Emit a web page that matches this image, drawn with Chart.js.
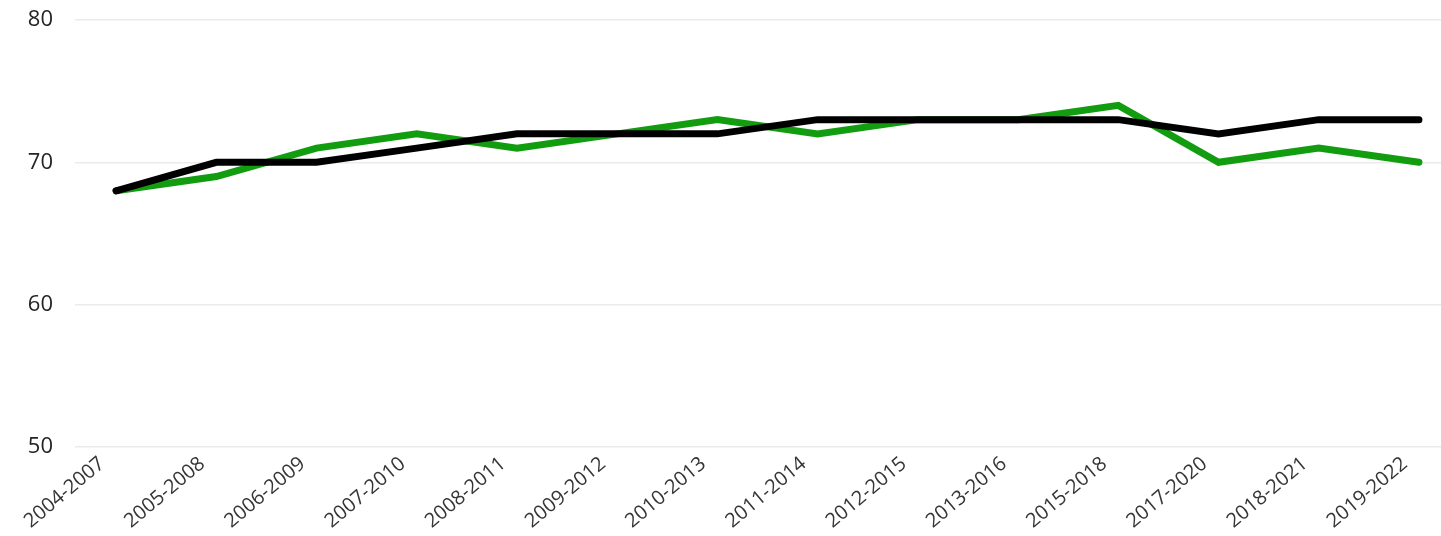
<!DOCTYPE html>
<html>
<head>
<meta charset="utf-8">
<script src="https://cdn.jsdelivr.net/npm/chart.js@4"></script>
<style>
html,body{margin:0;padding:0;background:#fff;}
#wrap{width:1441px;height:536px;position:relative;}
</style>
</head>
<body>
<div id="wrap"><canvas id="c"></canvas></div>
<script>
const categories = ["2004-2007","2005-2008","2006-2009","2007-2010","2008-2011","2009-2012","2010-2013","2011-2014","2012-2015","2013-2016","2015-2018","2017-2020","2018-2021","2019-2022"];
const greenSeries = [68, 69, 71, 72, 71, 72, 73, 72, 73, 73, 74, 70, 71, 70];
const blackSeries = [68, 70, 70, 71, 72, 72, 72, 73, 73, 73, 73, 72, 73, 73];
const yTicks = [50, 60, 70, 80];

const toPoints = arr => arr.map((v, i) => ({x: i, y: v}));

new Chart(document.getElementById('c'), {
  type: 'line',
  data: {
    datasets: [
      {
        data: toPoints(blackSeries),
        borderColor: '#000000',
        borderWidth: 7,
        pointRadius: 0,
        borderCapStyle: 'round',
        borderJoinStyle: 'miter',
        tension: 0,
        order: 0
      },
      {
        data: toPoints(greenSeries),
        borderColor: '#129c10',
        borderWidth: 7,
        pointRadius: 0,
        borderCapStyle: 'round',
        borderJoinStyle: 'miter',
        tension: 0,
        order: 1
      }
    ]
  },
  options: {
    responsive: true,
    maintainAspectRatio: false,
    animation: false,
    layout: {padding: {top: 20, right: 0, left: 0, bottom: 0}},
    plugins: {legend: {display: false}, tooltip: {enabled: false}},
    scales: {
      x: {
        type: 'linear',
        min: -0.41,
        max: 13.22,
        afterBuildTicks: axis => { axis.ticks = categories.map((c, i) => ({value: i})); },
        afterFit: scale => {
          scale.height = 89;
          scale.paddingLeft = 0; scale.paddingRight = 0;
          scale.paddingTop = 0; scale.paddingBottom = 0;
        },
        grid: {display: false, drawTicks: false},
        border: {display: false},
        ticks: {
          autoSkip: false,
          maxRotation: 40,
          minRotation: 40,
          padding: 5,
          labelOffset: -14,
          color: '#353535',
          font: {family: '"Open Sans", "Noto Sans", sans-serif', size: 20},
          callback: v => categories[v]
        }
      },
      y: {
        min: 50,
        max: 80,
        afterBuildTicks: axis => { axis.ticks = yTicks.map(v => ({value: v})); },
        afterFit: scale => {
          scale.width = 75;
          scale.paddingTop = 0; scale.paddingBottom = 0;
          scale.paddingLeft = 0; scale.paddingRight = 0;
        },
        grid: {color: '#ebebeb', lineWidth: 1.5, drawTicks: false},
        border: {display: false},
        ticks: {
          padding: 22,
          color: '#252423',
          font: {family: '"Open Sans", "Noto Sans", sans-serif', size: 22}
        }
      }
    }
  }
});
</script>
</body>
</html>
